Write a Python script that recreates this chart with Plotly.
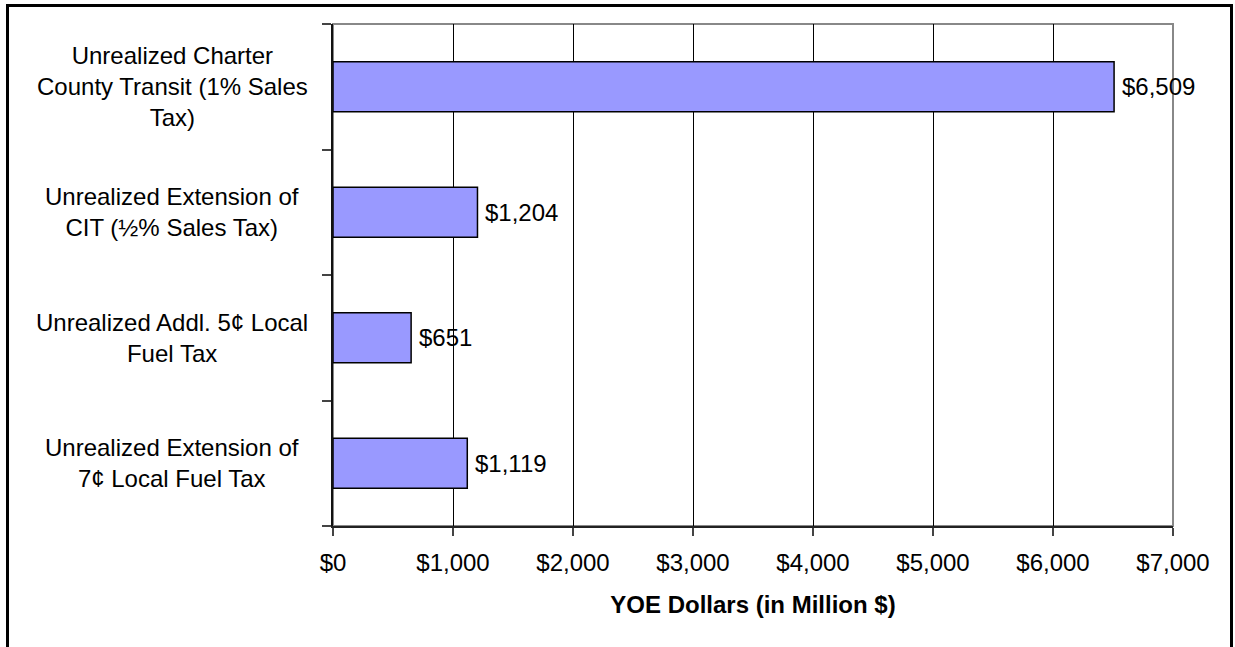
import plotly.graph_objects as go

categories = [
    "Unrealized Charter<br>County Transit (1% Sales<br>Tax)",
    "Unrealized Extension of<br>CIT (½% Sales Tax)",
    "Unrealized Addl. 5¢ Local<br>Fuel Tax",
    "Unrealized Extension of<br>7¢ Local Fuel Tax",
]
values = [6509, 1204, 651, 1119]
value_labels = ["$6,509", "$1,204", "$651", "$1,119"]
x_tickvals = [0, 1000, 2000, 3000, 4000, 5000, 6000, 7000]
x_ticktext = ["$0", "$1,000", "$2,000", "$3,000", "$4,000", "$5,000", "$6,000", "$7,000"]
x_title = "YOE Dollars (in Million $)"

W, H = 1235, 647
L, R, T, B = 333, 62, 24, 121
pw = W - L - R
ph = H - T - B
FONT = "Liberation Sans, Arial, sans-serif"

fig = go.Figure()
fig.add_trace(go.Bar(
    x=values, y=categories, orientation="h",
    marker=dict(color="#9999FF", line=dict(color="#000000", width=1.5)),
    width=0.4, hoverinfo="skip",
))

annotations = []
for c, v, t in zip(categories, values, value_labels):
    annotations.append(dict(x=v, y=c, xref="x", yref="y", text=t, showarrow=False,
                            xanchor="left", yanchor="middle", xshift=6,
                            font=dict(family=FONT, size=24, color="#000")))
    annotations.append(dict(x=(172 - L) / pw, y=c, xref="paper", yref="y", text=c,
                            showarrow=False, xanchor="center", yanchor="middle",
                            align="center", font=dict(family=FONT, size=24, color="#000")))

shapes = [
    # plot area frame (gray)
    dict(type="rect", xref="paper", yref="paper", x0=0, x1=1, y0=0, y1=1,
         line=dict(color="#888888", width=2), layer="below"),
    # outer chart border
    dict(type="rect", xref="paper", yref="paper",
         x0=(7.5 - L) / pw, x1=(1231.5 - L) / pw,
         y0=1 + (T - 5.5) / ph, y1=-(680 - (H - B)) / ph,
         line=dict(color="#000000", width=3), layer="above"),
]

fig.update_layout(
    width=W, height=H,
    margin=dict(l=L, r=R, t=T, b=B, pad=0),
    paper_bgcolor="white", plot_bgcolor="white",
    showlegend=False,
    font=dict(family=FONT, size=24, color="#000"),
    annotations=annotations,
    shapes=shapes,
    xaxis=dict(
        range=[0, 7000], tickvals=x_tickvals, ticktext=x_ticktext,
        showgrid=True, gridcolor="#000000", gridwidth=1,
        showline=True, linecolor="#222222", linewidth=2,
        ticks="outside", ticklen=8, tickcolor="#444444", tickwidth=1.5,
        ticklabelstandoff=6,
        tickfont=dict(family=FONT, size=24, color="#000"),
        zeroline=False, fixedrange=True,
        title=dict(text="<b>" + x_title + "</b>", font=dict(family=FONT, size=24, color="#000"),
                   standoff=21),
    ),
    yaxis=dict(
        categoryorder="array", categoryarray=categories[::-1],
        showticklabels=False, showgrid=False,
        showline=True, linecolor="#111111", linewidth=2,
        ticks="outside", ticklen=9, tickcolor="#444444", tickwidth=1.5,
        tickson="boundaries", zeroline=False, fixedrange=True,
    ),
)

fig.write_html("out.html", config={"displayModeBar": False})
